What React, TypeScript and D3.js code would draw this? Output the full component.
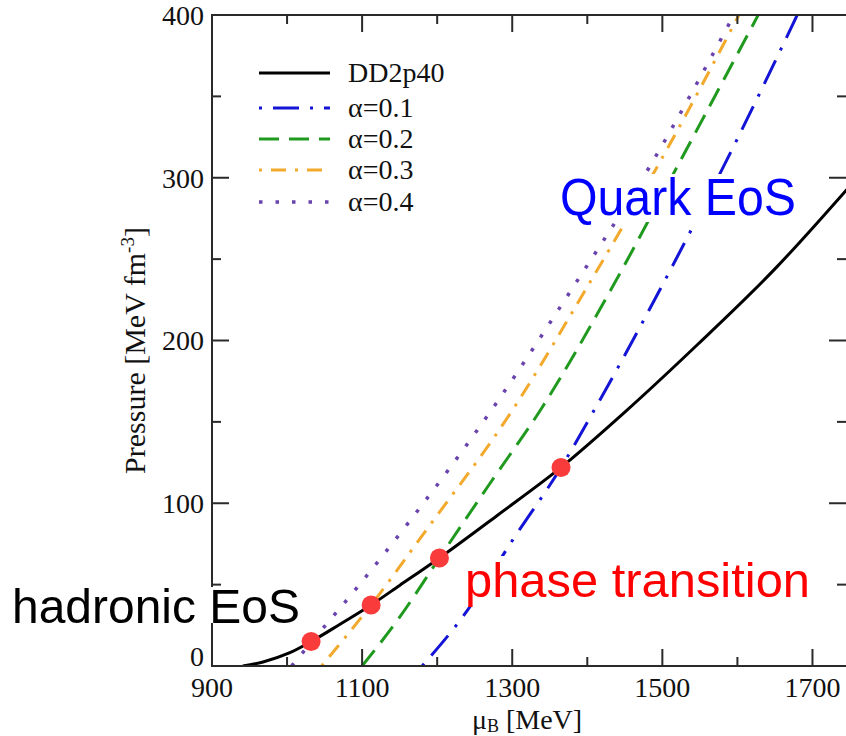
import React from "react";
import * as d3 from "d3";

// ---- data ----
const hadronMu = [941, 968, 1003, 1032, 1070, 1112, 1150, 1203, 1280, 1365, 1450, 1548, 1650, 1750];
const hadronP = [0, 2.5, 8, 15, 25.5, 37.5, 49.5, 66.4, 92.5, 122, 156, 198, 244, 295];

const a1Mu = [1180, 1240, 1300, 1365, 1415, 1500, 1600, 1690];
const a1P = [0, 34, 77, 122, 162, 234, 324, 410];

const a2Mu = [1100, 1150, 1203, 1270, 1340, 1430, 1520, 1630];
const a2P = [0, 30, 66.4, 112, 159, 230, 307, 402];

const a3Mu = [1046, 1080, 1112, 1183, 1300, 1400, 1508, 1610];
const a3P = [0, 19, 37.5, 82, 157, 233, 319, 407];

const a4Mu = [1006, 1033, 1100, 1160, 1278, 1380, 1482, 1600];
const a4P = [0, 15, 52, 87, 161, 232, 306, 404];

const transitionMu = [1032, 1112, 1203, 1365];
const transitionP = [15, 37.5, 66.4, 122];

const seriesNames = ["DD2p40", "α=0.1", "α=0.2", "α=0.3", "α=0.4"];

const xMajorTicks = [900, 1100, 1300, 1500, 1700];
const xMinorTicks = [1000, 1200, 1400, 1600];
const yMajorTicks = [0, 100, 200, 300, 400];
const yMinorTicks = [50, 150, 250, 350];

// ---- layout / styles ----
const W = 846, H = 736;
const L = 212, R = 850, T = 15, B = 666;

const styles = [
  { color: "#000000", dash: "none", width: 3 },
  { color: "#1414d6", dash: "3,11,26,11", width: 3 },
  { color: "#1f9a1f", dash: "20,10", width: 3 },
  { color: "#f2a92c", dash: "3,9,15,9", width: 3 },
  { color: "#6a44ae", dash: "3.5,13", width: 3.5 },
];

export default function App() {
  const x = d3.scaleLinear().domain([900, 1750]).range([L, R]);
  const y = d3.scaleLinear().domain([0, 400]).range([B, T]);
  const line = d3
    .line<[number, number]>()
    .x((d) => x(d[0]))
    .y((d) => y(d[1]))
    .curve(d3.curveMonotoneX);

  const series = [
    d3.zip(hadronMu, hadronP),
    d3.zip(a1Mu, a1P),
    d3.zip(a2Mu, a2P),
    d3.zip(a3Mu, a3P),
    d3.zip(a4Mu, a4P),
  ] as [number, number][][];

  const axisColor = "#2a2a2a";
  const serif = "'Liberation Serif', 'Times New Roman', serif";
  const sans = "'Liberation Sans', Arial, sans-serif";
  const major = 17, minor = 9;

  const legendY = [73, 108, 139, 170, 202];

  return (
    <svg
      width={W}
      height={H}
      style={{ position: "absolute", left: 0, top: 0, background: "#fff" }}
    >
      <defs>
        <clipPath id="plot">
          <rect x={L} y={T} width={R - L} height={B - T} />
        </clipPath>
      </defs>
      <rect x={0} y={0} width={W} height={H} fill="#fff" />

      {/* curves */}
      <g clipPath="url(#plot)">
        {series.map((s, i) => (
          <path
            key={i}
            d={line(s) || ""}
            fill="none"
            stroke={styles[i].color}
            strokeWidth={styles[i].width}
            strokeDasharray={styles[i].dash}
          />
        ))}
      </g>

      {/* frame */}
      <g stroke={axisColor} strokeWidth={2} fill="none">
        <rect x={L} y={T} width={R - L} height={B - T} />
        {xMajorTicks.map((t) => (
          <g key={"xm" + t}>
            <line x1={x(t)} x2={x(t)} y1={B} y2={B - major} />
            <line x1={x(t)} x2={x(t)} y1={T} y2={T + major} />
          </g>
        ))}
        {xMinorTicks.map((t) => (
          <g key={"xn" + t}>
            <line x1={x(t)} x2={x(t)} y1={B} y2={B - minor} />
            <line x1={x(t)} x2={x(t)} y1={T} y2={T + minor} />
          </g>
        ))}
        {yMajorTicks.map((t) => (
          <g key={"ym" + t}>
            <line x1={L} x2={L + major} y1={y(t)} y2={y(t)} />
            <line x1={R} x2={R - major - 4} y1={y(t)} y2={y(t)} />
          </g>
        ))}
        {yMinorTicks.map((t) => (
          <g key={"yn" + t}>
            <line x1={L} x2={L + minor} y1={y(t)} y2={y(t)} />
            <line x1={R} x2={R - minor - 4} y1={y(t)} y2={y(t)} />
          </g>
        ))}
      </g>

      {/* tick labels */}
      <g fontFamily={serif} fontSize={28} fill="#111">
        {xMajorTicks.map((t) => (
          <text key={"xl" + t} x={x(t)} y={697} textAnchor="middle">
            {t}
          </text>
        ))}
        {yMajorTicks.map((t) => (
          <text
            key={"yl" + t}
            x={204}
            y={y(t) - (t === 0 ? 10 : 0)}
            dy="0.35em"
            textAnchor="end"
          >
            {t}
          </text>
        ))}
      </g>

      {/* axis titles */}
      <text
        fontFamily={serif}
        fontSize={30}
        fill="#111"
        textAnchor="middle"
        transform={`translate(145, ${(T + B) / 2 + 10}) rotate(-90)`}
      >
        Pressure [MeV fm
        <tspan dy={-11} fontSize={19}>-3</tspan>
        <tspan dy={11}>]</tspan>
      </text>
      <text
        fontFamily={serif}
        fontSize={28}
        fill="#111"
        textAnchor="middle"
        x={527}
        y={729}
      >
        μ<tspan dy={3} fontSize={18}>B</tspan>
        <tspan dy={-3}> [MeV]</tspan>
      </text>

      {/* legend */}
      <g>
        {seriesNames.map((n, i) => (
          <g key={n}>
            <line
              x1={259}
              x2={330}
              y1={legendY[i]}
              y2={legendY[i]}
              stroke={styles[i].color}
              strokeWidth={styles[i].width}
              strokeDasharray={styles[i].dash}
            />
            <text
              x={348}
              y={legendY[i] + 9}
              fontFamily={serif}
              fontSize={28}
              fill="#111"
            >
              {n}
            </text>
          </g>
        ))}
      </g>

      {/* annotations with white backgrounds */}
      <rect x={555} y={174} width={246} height={48} fill="#fff" />
      <text
        x={560}
        y={215}
        fontFamily={sans}
        fontSize={52}
        fill="#0000ff"
        textLength={236}
        lengthAdjust="spacingAndGlyphs"
      >
        Quark EoS
      </text>

      <rect x={460} y={556} width={356} height={50} fill="#fff" />
      <text
        x={465}
        y={597}
        fontFamily={sans}
        fontSize={48}
        fill="#ff0000"
        textLength={345}
        lengthAdjust="spacingAndGlyphs"
      >
        phase transition
      </text>

      <rect x={6} y={587} width={300} height={36} fill="#fff" />
      <text
        x={12}
        y={623}
        fontFamily={sans}
        fontSize={49}
        fill="#000"
        textLength={288}
        lengthAdjust="spacingAndGlyphs"
      >
        hadronic EoS
      </text>

      {/* transition points */}
      {transitionMu.map((m, i) => (
        <circle key={i} cx={x(m)} cy={y(transitionP[i])} r={9.5} fill="#f93b3b" />
      ))}
    </svg>
  );
}
